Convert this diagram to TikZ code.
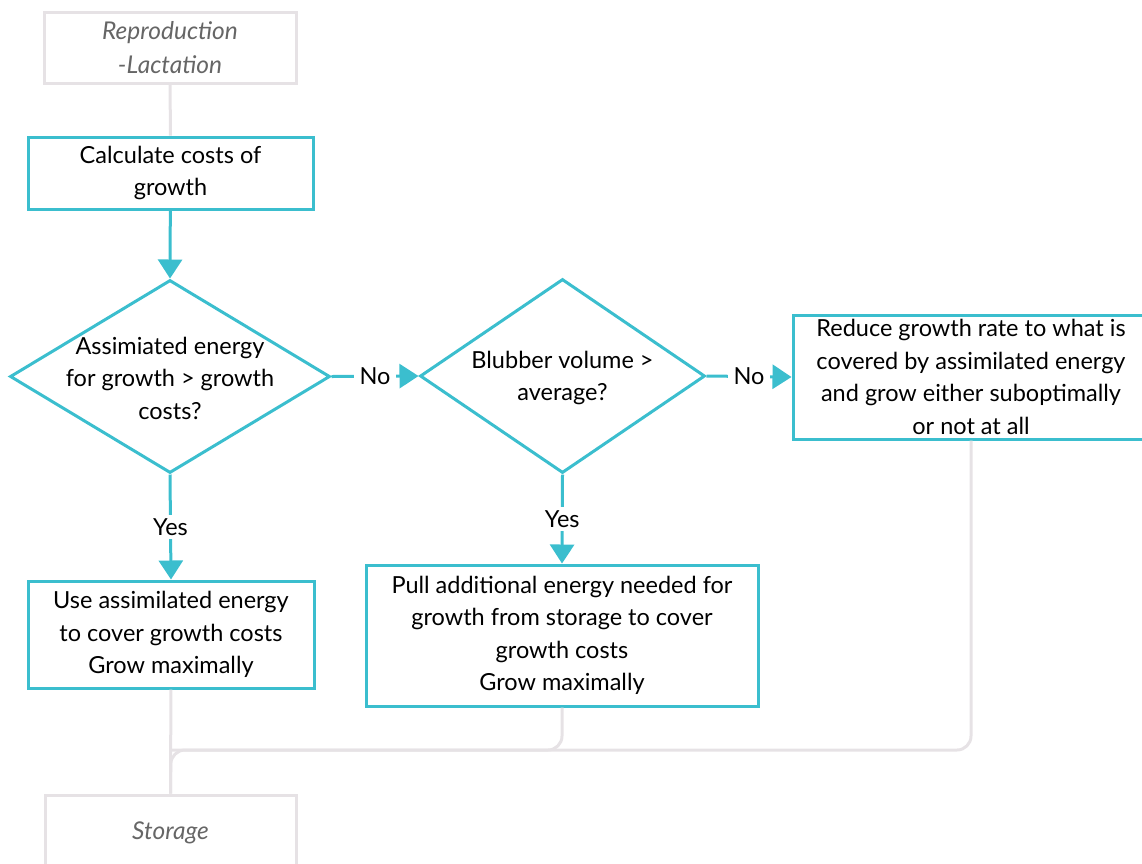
\documentclass[tikz,border=0pt]{standalone}
\usepackage{fontspec}
\setmainfont{Lato}
\usetikzlibrary{shapes.geometric,arrows.meta}
\definecolor{tealline}{RGB}{59,190,206}
\definecolor{greyline}{RGB}{230,226,229}
\definecolor{greytext}{RGB}{102,102,102}
\begin{document}
\begin{tikzpicture}[x=1pt, y=-1pt,
    every node/.style={font=\fontsize{23.5}{32.5}\selectfont, align=center, inner sep=0pt},
    process/.style={rectangle, draw=tealline, line width=3pt, fill=white},
    outside/.style={rectangle, draw=greyline, line width=3pt, text=greytext, font=\fontsize{24.5}{34}\selectfont\itshape},
    decision/.style={diamond, draw=tealline, line width=3pt},
    flow/.style={draw=tealline, line width=3pt, -{Triangle[length=19pt,width=24pt]}},
    link/.style={draw=greyline, line width=3pt},
    lbl/.style={fill=white, inner xsep=6pt, inner ysep=3pt}]
    \useasboundingbox (0,0) rectangle (1142,863);
    % boxes
    \node[outside, minimum width=252pt, minimum height=71pt] (repro) at (170,47.5) {Reproduction\\-Lactation};
    \node[process, minimum width=285pt, minimum height=72pt] (calc) at (170.5,173) {Calculate costs of\\growth};
    \node[decision, minimum width=320pt, minimum height=193pt] (dgrow) at (170,376.5) {};
    \node (tgrow) at (170,378) {Assimiated energy\\for growth > growth\\costs?};
    \node[decision, minimum width=285pt, minimum height=194pt] (dblub) at (562.5,376) {};
    \node (tblub) at (562.5,378) {Blubber volume >\\average?};
    \node[process, minimum width=356pt, minimum height=124pt] (reduce) at (971,377) {Reduce growth rate to what is\\covered by assimilated energy\\and grow either suboptimally\\or not at all};
    \node[process, minimum width=286pt, minimum height=107pt] (use) at (171,634.5) {Use assimilated energy\\to cover growth costs\\Grow maximally};
    \node[process, minimum width=392pt, minimum height=141pt] (pull) at (562,635.5) {Pull additional energy needed for\\growth from storage to cover\\growth costs\\Grow maximally};
    \node[outside, minimum width=251pt, minimum height=76pt] (storage) at (170.5,833) {Storage};
    % grey links
    \draw[link] (repro) -- (calc);
    \draw[link] (use) -- (storage);
    \draw[link, rounded corners=14pt] (reduce.south) |- (171,750) -- (storage.north);
    \draw[link, rounded corners=14pt] (pull.south) |- (171,750);
    % flow
    \draw[flow] (calc) -- (dgrow.north);
    \draw[flow] (dgrow.east) -- node[lbl] {No} (dblub.west);
    \draw[flow] (dblub.east) -- node[lbl] {No} (reduce.west);
    \draw[flow] (dgrow.south) -- node[lbl] {Yes} (use.north);
    \draw[flow] (dblub.south) -- node[lbl] {Yes} (pull.north);
\end{tikzpicture}
\end{document}
